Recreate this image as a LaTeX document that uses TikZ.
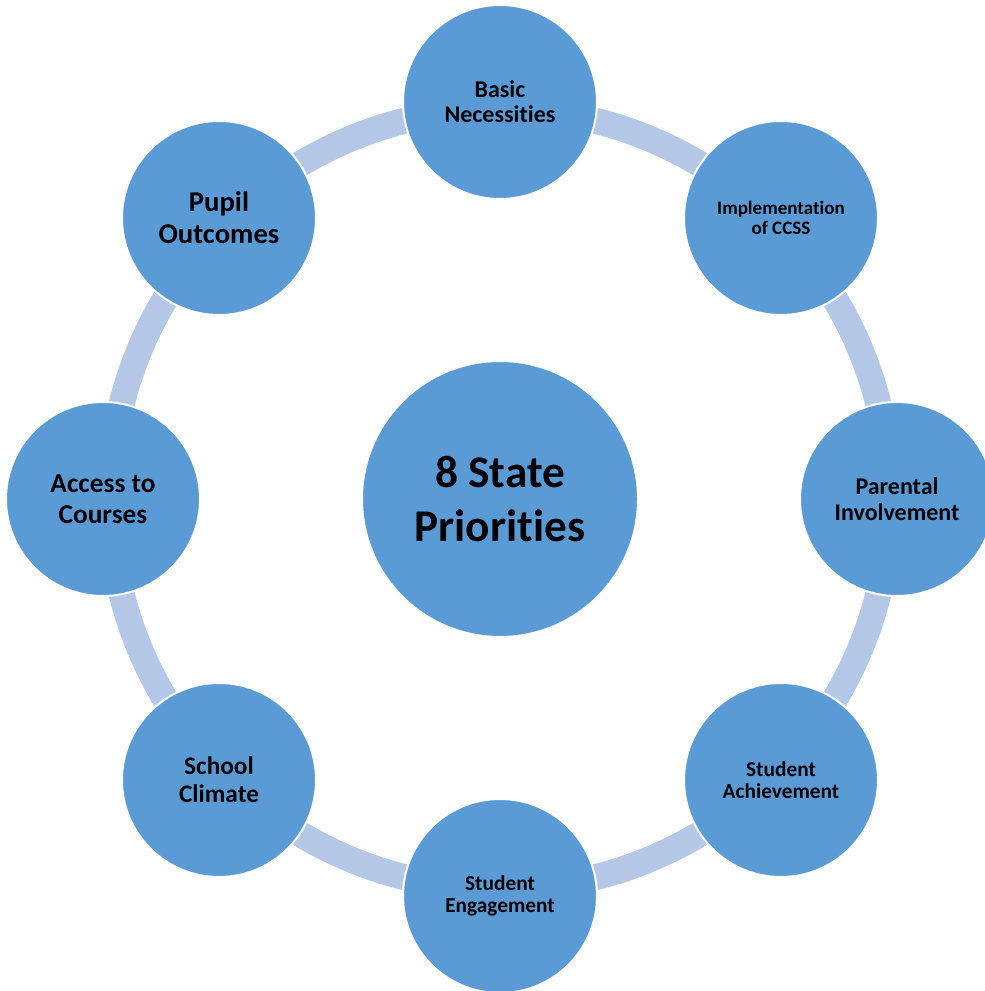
\documentclass[tikz,border=0pt]{standalone}
\usepackage{fontspec}
\setmainfont{Carlito}[Ligatures={NoCommon}]
\usetikzlibrary{positioning}

\definecolor{prioblue}{HTML}{5B9BD5}
\definecolor{ringblue}{HTML}{B4C7E7}

\tikzset{
  priority/.style={circle, fill=prioblue, draw=white, line width=1.5pt,
    minimum size=145.5pt, inner sep=0pt, align=center, text=black},
  hub/.style={priority, minimum size=207pt}
}
\newcommand{\prifont}[2]{\bfseries\fontsize{#1}{#2}\selectfont}

\begin{document}
\begin{tikzpicture}[x=0.75pt,y=0.75pt,yscale=-1,xscale=1]
\useasboundingbox (0,0) rectangle (984,991);

%Ring behind the circles
\draw [ringblue, line width=19.5pt] (500,499) circle (390) ;

% Centre node
\node [hub, font=\prifont{34}{41}] (state) at (500,499) {8 State\\Priorities};

% Outer nodes
\node [priority, font=\prifont{18}{19}] (basic) at (500,102) {Basic\\Necessities};
\node [priority, font=\prifont{14.3}{14.5}] (ccss) at (781,218) {Implementation\\of CCSS};
\node [priority, font=\prifont{18}{19}] (parent) at (897,499) {Parental\\Involvement};
\node [priority, font=\prifont{16}{17}] (achieve) at (781,780) {Student\\Achievement};
\node [priority, font=\prifont{16}{16.5}] (engage) at (500,896) {Student\\Engagement};
\node [priority, font=\prifont{19}{21}] (climate) at (219,780) {School\\Climate};
\node [priority, font=\prifont{20.5}{23}] (access) at (103,499) {Access to\\Courses};
\node [priority, font=\prifont{21.5}{24}] (pupil) at (219,218) {Pupil\\Outcomes};

\end{tikzpicture}
\end{document}
